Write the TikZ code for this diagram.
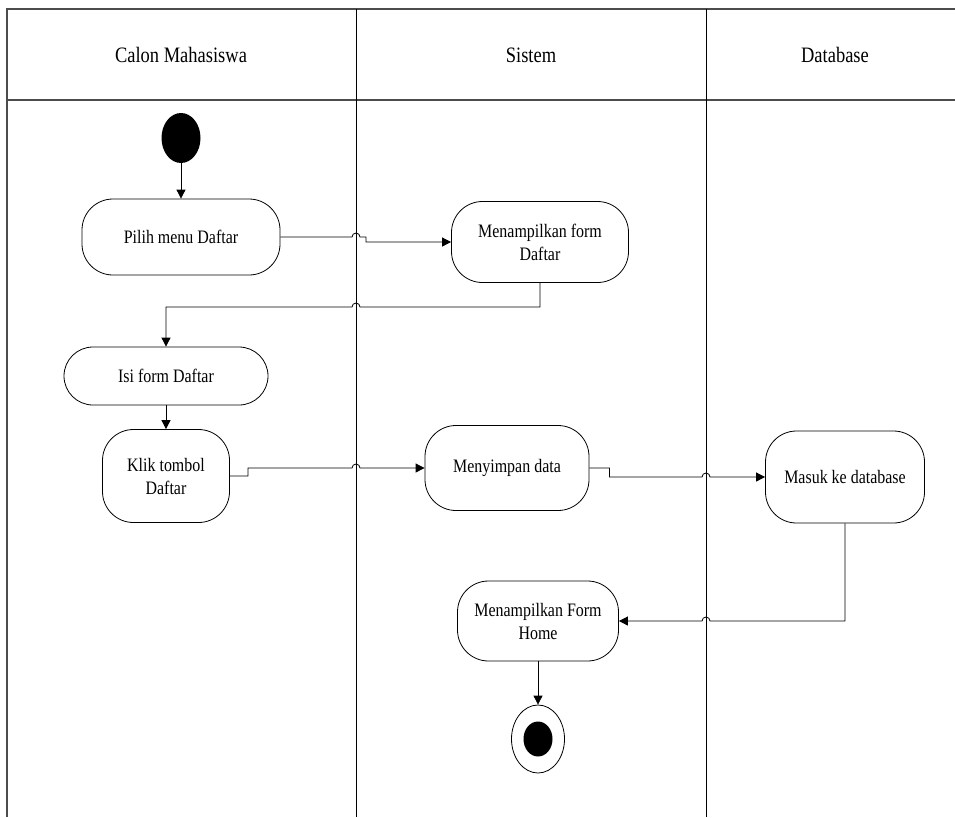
\documentclass[tikz,border=0pt]{standalone}
\usepackage{fontspec}
\setmainfont[FakeStretch=0.84]{Liberation Serif}
\usepackage{tikz}
\usetikzlibrary{shapes.geometric, arrows.meta, positioning, calc}

\begin{document}
\begin{tikzpicture}[
  x=1pt, y=1pt,
  every path/.style={line width=0.8pt},
  activity/.style={rectangle, rounded corners=31pt, draw, align=center, inner sep=0pt, font=\fontsize{19}{23}\selectfont},
  lanetitle/.style={font=\fontsize{22}{26}\selectfont},
  startnode/.style={ellipse, fill=black, minimum width=39pt, minimum height=50pt, inner sep=0pt},
  endnode/.style={ellipse, draw, minimum width=53pt, minimum height=68pt, inner sep=0pt},
  border/.style={line width=1.6pt, color=black!70},
  arrow/.style={-{Triangle[length=9pt, width=9pt]}}
]
  \useasboundingbox (0,0) rectangle (955,-817);

  % Swimlanes
  \coordinate (lane0) at (7,-9);
  \coordinate (lane1) at (356,-9);
  \coordinate (lane2) at (706,-9);
  \draw[border] (7,-817) -- (lane0) -- (955,-9);
  \draw[border] (7,-100) -- (955,-100);
  \draw (lane1) -- (356,-817);
  \draw (lane2) -- (706,-817);
  \node[lanetitle] (calon) at (181,-55) {Calon Mahasiswa};
  \node[lanetitle] (sistem) at (531,-55) {Sistem};
  \node[lanetitle] (database) at (835,-55) {Database};

  % Calon Mahasiswa lane
  \node[startnode] (mulai) at (181,-138) {};
  \node[activity, minimum width=198pt, minimum height=76pt] (pilih) at (181,-237) {Pilih menu Daftar};
  \node[activity, rounded corners=29pt, minimum width=204pt, minimum height=58pt] (isi) at (166,-376) {Isi form Daftar};
  \node[activity, minimum width=127pt, minimum height=93pt] (klik) at (166,-476) {Klik tombol\\Daftar};

  % Sistem lane
  \node[activity, minimum width=177pt, minimum height=81pt] (tampil) at (540,-242) {Menampilkan form\\Daftar};
  \node[activity, minimum width=164pt, minimum height=85pt] (simpan) at (507,-468) {Menyimpan data};
  \node[activity, minimum width=161pt, minimum height=80pt] (home) at (538,-621) {Menampilkan Form\\Home};
  \node[endnode] (selesai) at (538,-739) {};
  \node[startnode, minimum width=29pt, minimum height=35pt] (selesaidot) at (selesai) {};

  % Database lane
  \node[activity, minimum width=159pt, minimum height=92pt] (masuk) at (845,-477) {Masuk ke database};

  % Flow
  \coordinate (balik) at (540,-307);
  \draw[arrow] (mulai) -- (pilih);
  \draw[arrow] (pilih.east) -- ([xshift=-4pt]lane1 |- pilih.east) arc[start angle=180, end angle=0, radius=4] -- ([xshift=10pt]lane1 |- pilih.east) |- (tampil.west);
  \draw[arrow] (tampil.south) -- (balik) -- ([xshift=4pt]lane1 |- balik) arc[start angle=0, end angle=180, radius=4] -| (isi.north);
  \draw[arrow] (isi) -- (klik);
  \draw[arrow] (klik.east) -- ++(18,0) |- ([xshift=-4pt]lane1 |- simpan.west) arc[start angle=180, end angle=0, radius=4] -- (simpan.west);
  \draw[arrow] (simpan.east) -- ++(20,0) |- ([xshift=-4pt]lane2 |- masuk.west) arc[start angle=180, end angle=0, radius=4] -- (masuk.west);
  \draw[arrow] (masuk.south) |- ([xshift=4pt]lane2 |- home.east) arc[start angle=0, end angle=180, radius=4] -- (home.east);
  \draw[arrow] (home) -- (selesai);
\end{tikzpicture}
\end{document}
